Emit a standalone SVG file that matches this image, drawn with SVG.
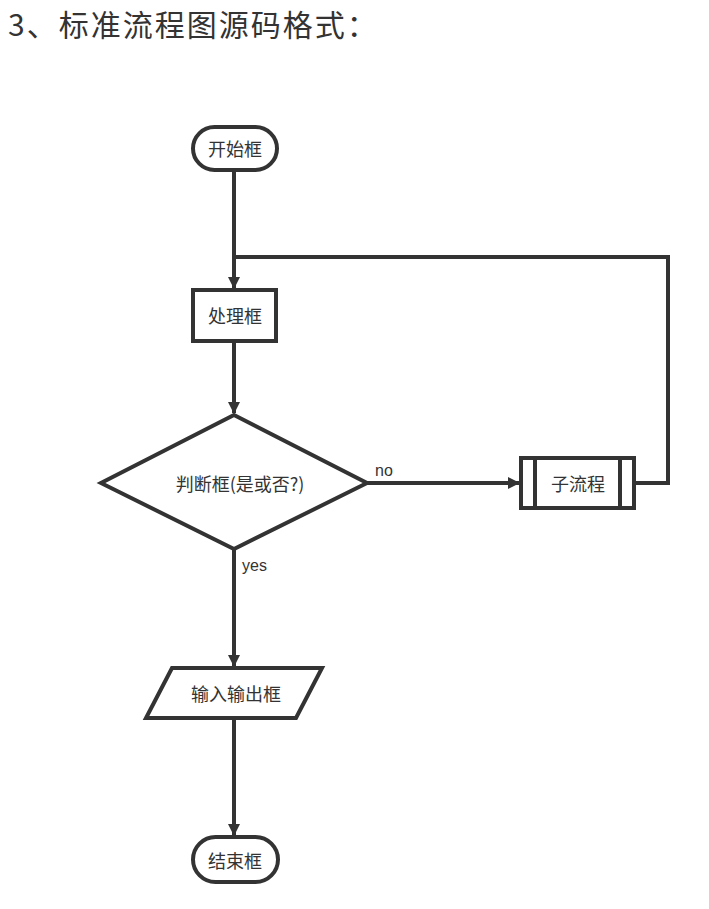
<svg xmlns="http://www.w3.org/2000/svg" width="709" height="909" viewBox="0 0 709 909">
<style>
.shape{fill:#fff;stroke:#333;stroke-width:4}
.edge{fill:none;stroke:#333;stroke-width:4}
.lbl{font-family:"Noto Sans CJK SC","Noto Sans",sans-serif;font-size:18px;fill:#333;text-anchor:middle;dominant-baseline:central}
.el{font-family:"Liberation Sans",Arial,sans-serif;font-size:16px;fill:#333}
</style>
<defs>
<marker id="arr" viewBox="0 0 12 12" refX="11" refY="6" markerWidth="12" markerHeight="12" markerUnits="userSpaceOnUse" orient="auto">
<path d="M0,0 L12,6 L0,12 z" fill="#333"/>
</marker>
</defs>
<rect width="709" height="909" fill="#fff"/>
<text x="8" y="36" font-family="Noto Sans CJK SC,Noto Sans,sans-serif" font-size="30" fill="#333" letter-spacing="2">3、标准流程图源码格式：</text>
<g id="connectors">
<path class="edge" d="M234,170 V288" marker-end="url(#arr)"/>
<path class="edge" d="M234,341 V413" marker-end="url(#arr)"/>
<path class="edge" d="M367,483 H519" marker-end="url(#arr)"/>
<path class="edge" d="M635,483 H668 V257 H234"/>
<path class="edge" d="M234,548 V666" marker-end="url(#arr)"/>
<path class="edge" d="M234,718 V835" marker-end="url(#arr)"/>
<text class="el" x="375" y="476">no</text>
<text class="el" x="242" y="571">yes</text>
</g>
<g id="start">
<rect class="shape" x="193" y="127" width="84" height="43" rx="21.5"/>
<text class="lbl" x="235" y="148">开始框</text>
</g>
<g id="process">
<rect class="shape" x="193" y="290" width="83" height="51"/>
<text class="lbl" x="235" y="315">处理框</text>
</g>
<g id="decision">
<path class="shape" d="M234,415 L367,483 L234,549 L101,483 z"/>
<text class="lbl" x="240" y="483">判断框(是或否?)</text>
</g>
<g id="subprocess">
<rect class="shape" x="521" y="458" width="113" height="50"/>
<path class="edge" d="M535,458 V508 M620,458 V508"/>
<text class="lbl" x="578" y="483">子流程</text>
</g>
<g id="io">
<path class="shape" d="M172,668 L322,668 L296,718 L146,718 z"/>
<text class="lbl" x="236" y="693">输入输出框</text>
</g>
<g id="end">
<rect class="shape" x="193" y="837" width="85" height="45" rx="22.5"/>
<text class="lbl" x="235" y="860">结束框</text>
</g>
</svg>
